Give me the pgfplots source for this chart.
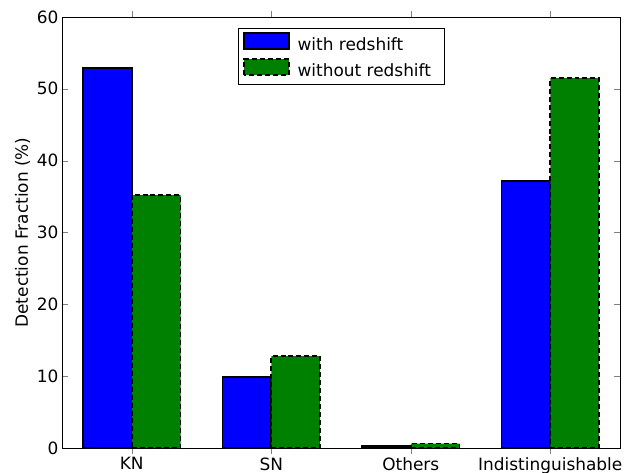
\documentclass[border=0pt]{standalone}
\usepackage{pgfplots}
\pgfplotsset{compat=1.18}
\usepackage{fontspec}
\setmainfont{DejaVu Sans}
\begin{document}
\begin{tikzpicture}
\begin{axis}[name=ax,
  scale only axis, width=558bp, height=431bp,
  xmin=-0.5, xmax=3.5, ymin=0, ymax=60,
  xtick={0,1,2,3}, xticklabels={KN,SN,Others,Indistinguishable},
  ytick={0,10,20,30,40,50,60},
  tick align=inside, tick pos=both,
  major tick length=6bp,
  ylabel={Detection Fraction (\%)},
  ylabel style={yshift=0bp},
  /pgf/number format/assume math mode=true,
  ticklabel style={font=\fontsize{17}{19}\selectfont},
  label style={font=\fontsize{17}{19}\selectfont},
  ybar, bar width=0.35,
  legend style={at={(0.5,0.975)}, anchor=north, font=\fontsize{17}{19}\selectfont, draw=black, line width=0.6pt, legend cell align=left, inner xsep=5bp, inner ysep=4bp, row sep=4bp, nodes={inner xsep=8bp}},
  legend image code/.code={\draw[#1] (0bp,-4bp) rectangle (45bp,12bp);},
]
\addplot[fill=blue, draw=black, line width=1.6pt, bar shift=-0.175] coordinates {(0,52.9) (1,9.9) (2,0.3) (3,37.2)};
\addlegendentry{with redshift}
\addplot[fill=green!50!black, draw=black, dash pattern=on 5pt off 3pt, line width=1.6pt, bar shift=0.175] coordinates {(0,35.2) (1,12.8) (2,0.6) (3,51.5)};
\addlegendentry{without redshift}
\end{axis}
\pgfresetboundingbox
\path ([shift={(-62bp,-25bp)}]ax.south west) rectangle ([shift={(10bp,17bp)}]ax.north east);
\end{tikzpicture}
\end{document}
